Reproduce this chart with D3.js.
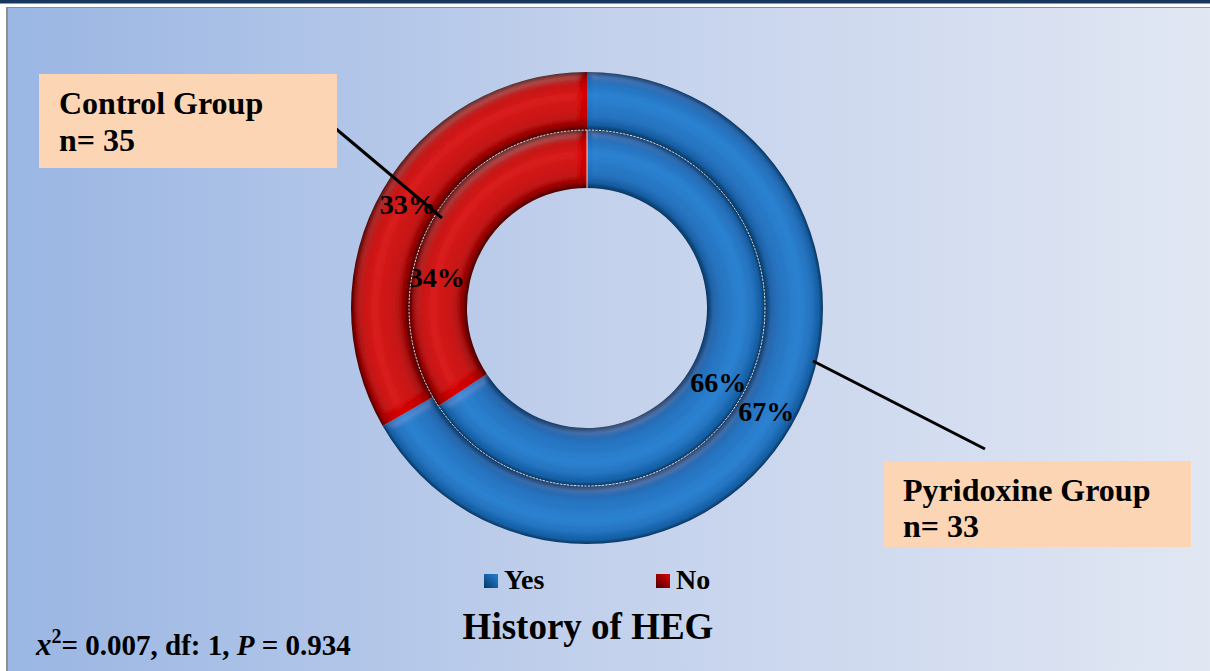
<!DOCTYPE html>
<html><head><meta charset="utf-8">
<script src="https://cdn.jsdelivr.net/npm/d3@7"></script>
<style>body{margin:0;overflow:hidden;background:#fff}svg{display:block}</style>
</head><body>
<svg id="chart" width="1210" height="671"></svg>
<script>
// ---- data ----
const categories = ["Yes", "No"];
const groups = ["Control Group", "Pyridoxine Group"];   // inner ring, outer ring
const groupN = [35, 33];
const controlCounts = [23, 12];
const pyridoxineCounts = [22, 11];
const legendLabels = ["Yes", "No"];
const chartTitle = "History of HEG";

const W = 1210, H = 671;
const svg = d3.select("#chart");
const defs = svg.append("defs");
const FONT = "'Liberation Serif','Times New Roman',serif";

// frame
svg.append("rect").attr("x",0).attr("y",0).attr("width",W).attr("height",H).attr("fill","#fff");
svg.append("rect").attr("x",0).attr("y",0).attr("width",W).attr("height",3.5).attr("fill","#17375E");
const bg = defs.append("linearGradient").attr("id","bg").attr("x1","0").attr("x2","1").attr("y1","0").attr("y2","0");
bg.append("stop").attr("offset","0").attr("stop-color","#9AB6E3");
bg.append("stop").attr("offset","0.5").attr("stop-color","#C3D1EC");
bg.append("stop").attr("offset","1").attr("stop-color","#E1E7F3");
svg.append("rect").attr("x",6).attr("y",7).attr("width",W-6).attr("height",H-7).attr("fill","#8E8E8E");
svg.append("rect").attr("x",8).attr("y",8).attr("width",W-8).attr("height",H-8).attr("fill","url(#bg)");

// ---- donut ----
const cx = 587, cy = 308;
const ringScale = d3.scaleLinear().domain([0, groups.length]).range([120, 236]);
const color = d3.scaleOrdinal().domain(categories).range(["blue","red"]);
const palettes = {
  blue: {dark:"#0A3560", mid:"#155FA4", base:"#1A70BE", light:"#2380D0"},
  red:  {dark:"#4A0000", mid:"#9A0000", base:"#C40000", light:"#D80606"}
};

// bevel filter
const f = defs.append("filter").attr("id","bevel").attr("x","-5%").attr("y","-5%").attr("width","110%").attr("height","110%");
f.append("feGaussianBlur").attr("in","SourceAlpha").attr("stdDeviation",5).attr("result","blur");
const spec = f.append("feSpecularLighting").attr("in","blur").attr("surfaceScale",4)
  .attr("specularConstant",0.5).attr("specularExponent",25).attr("lighting-color","#ffffff").attr("result","spec");
spec.append("feDistantLight").attr("azimuth",250).attr("elevation",45);
f.append("feComposite").attr("in","spec").attr("in2","SourceAlpha").attr("operator","in").attr("result","specIn");
f.append("feComposite").attr("in","SourceGraphic").attr("in2","specIn").attr("operator","arithmetic")
  .attr("k1",0).attr("k2",1).attr("k3",0.12).attr("k4",0);

const ringData = [controlCounts, pyridoxineCounts];
const pie = d3.pie().sort(null).value(d => d);
const pctFmt = d3.format(".0%");
const g = svg.append("g").attr("transform", `translate(${cx},${cy})`);

ringData.forEach((counts, ri) => {
  const r0 = ringScale(ri), r1 = ringScale(ri + 1);
  const t = r => r0 / r1 + (1 - r0 / r1) * r;
  categories.forEach(cat => {
    const p = palettes[color(cat)];
    const gr = defs.append("radialGradient").attr("id", `rg${ri}${cat}`)
      .attr("gradientUnits","userSpaceOnUse").attr("cx",0).attr("cy",0).attr("r",r1);
    [[0,p.dark],[0.1,p.mid],[0.25,p.base],[0.6,p.light],[0.8,p.base],[0.93,p.mid],[1,p.dark]]
      .forEach(([o,c]) => gr.append("stop").attr("offset", t(o)).attr("stop-color", c));
  });
  const arc = d3.arc().innerRadius(r0).outerRadius(r1);
  const arcs = pie(counts);
  const total = d3.sum(counts);
  g.append("g").selectAll("path").data(arcs).join("path")
    .attr("d", arc)
    .attr("fill", (d,i) => `url(#rg${ri}${categories[i]})`)
    .attr("filter","url(#bevel)");
  // labels
  const labelArc = d3.arc().innerRadius((r0 + r1) / 2).outerRadius((r0 + r1) / 2);
  g.append("g").selectAll("text").data(arcs).join("text")
    .attr("transform", (d,i) => {
      let [x, y] = labelArc.centroid(d);
      if (ri === 0 && i === 1) { x -= 19; y += 40; }
      if (ri === 0 && i === 0) { y += 4; }
      return `translate(${x},${y})`;
    })
    .attr("text-anchor","middle").attr("dy","0.35em")
    .attr("font-family", FONT).attr("font-weight","bold").attr("font-size", 28).attr("fill","#000")
    .text(d => pctFmt(d.data / total));
});
// ring separator
g.append("circle").attr("r", ringScale(1)).attr("fill","none").attr("stroke","#ffffff")
  .attr("stroke-width",1).attr("stroke-dasharray","2,1.5").attr("opacity",0.85);
g.append("line").attr("x1",0).attr("x2",0).attr("y1",-ringScale(0)).attr("y2",-ringScale(1))
  .attr("stroke","#fff").attr("stroke-width",1).attr("opacity",0.8);

// ---- callouts ----
svg.append("line").attr("x1",335).attr("y1",128).attr("x2",442).attr("y2",218).attr("stroke","#000").attr("stroke-width",3);
svg.append("line").attr("x1",813).attr("y1",361).attr("x2",985).attr("y2",449).attr("stroke","#000").attr("stroke-width",3);

const boxes = [
  {x:39, y:74, w:298, h:94, tx:59, b1:114, b2:151, gi:0},
  {x:884, y:461, w:307, h:86, tx:903, b1:501, b2:537, gi:1}
];
boxes.forEach(b => {
  svg.append("rect").attr("x",b.x).attr("y",b.y).attr("width",b.w).attr("height",b.h).attr("fill","#FCD5B4");
  const t = svg.append("text").attr("font-family",FONT).attr("font-weight","bold").attr("font-size",32).attr("fill","#000");
  t.append("tspan").attr("x",b.tx).attr("y",b.b1).text(groups[b.gi]);
  t.append("tspan").attr("x",b.tx).attr("y",b.b2).text("n= " + groupN[b.gi]);
});

// ---- legend ----
const legX = d3.scalePoint().domain(legendLabels).range([484, 656]);
legendLabels.forEach(l => {
  const p = palettes[color(l)];
  const lg = defs.append("linearGradient").attr("id","lg"+l).attr("x1","0").attr("y1","1").attr("x2","1").attr("y2","0");
  lg.append("stop").attr("offset","0").attr("stop-color",p.dark);
  lg.append("stop").attr("offset","0.5").attr("stop-color",p.mid);
  lg.append("stop").attr("offset","1").attr("stop-color",p.light);
  svg.append("rect").attr("x",legX(l)).attr("y",574).attr("width",14).attr("height",14).attr("fill",`url(#lg${l})`);
  svg.append("text").attr("x",legX(l)+20).attr("y",589).attr("font-family",FONT).attr("font-weight","bold")
    .attr("font-size",28).attr("fill","#000").text(l);
});

// ---- title ----
svg.append("text").attr("x",588).attr("y",639).attr("text-anchor","middle").attr("font-family",FONT)
  .attr("font-weight","bold").attr("font-size",37).attr("fill","#000").text(chartTitle);

// ---- stats ----
const st = svg.append("text").attr("x",36).attr("y",655).attr("font-family",FONT).attr("font-weight","bold")
  .attr("font-size",29).attr("fill","#000");
st.append("tspan").attr("font-style","italic").attr("font-size",31).text("x");
st.append("tspan").attr("font-size",20).attr("dy",-12).text("2");
st.append("tspan").attr("dy",12).text("= 0.007, df: 1, ");
st.append("tspan").attr("font-style","italic").text("P");
st.append("tspan").text(" = 0.934");
</script>
</body></html>
